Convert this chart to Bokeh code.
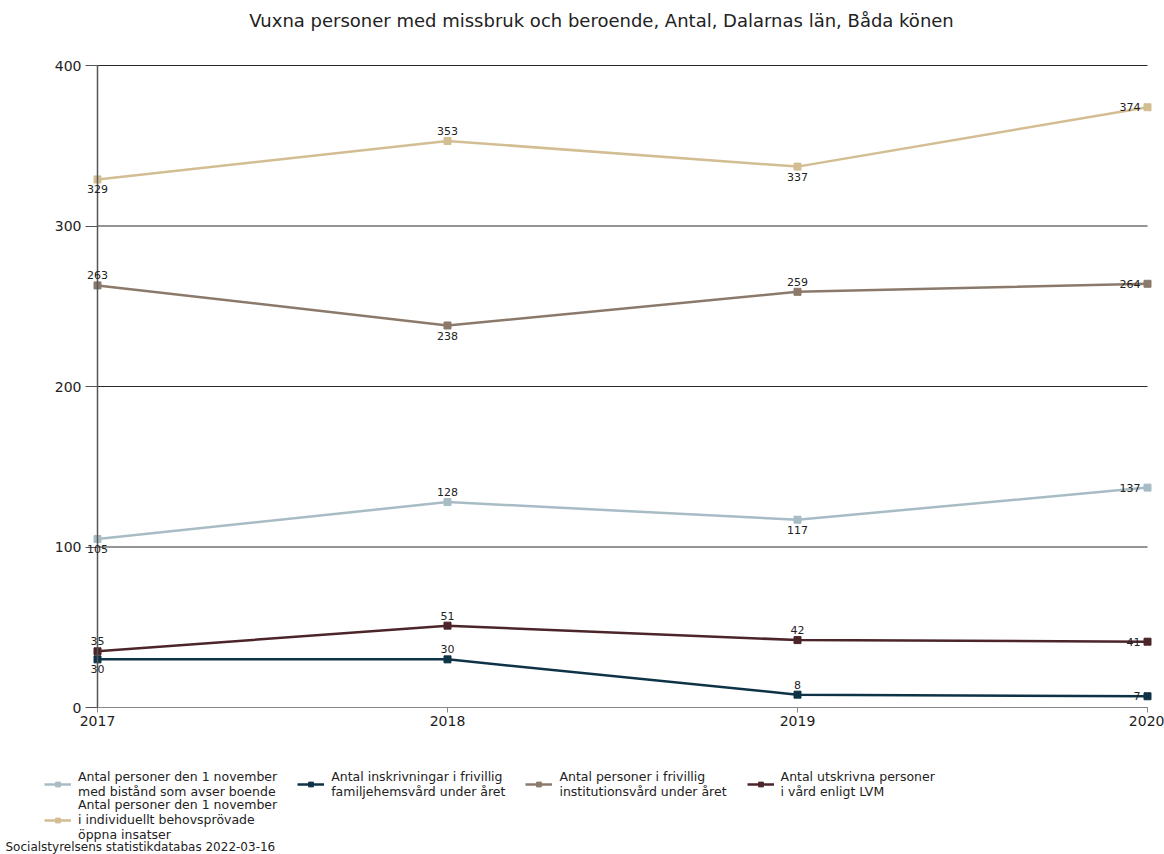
from bokeh.plotting import figure
from bokeh.models import (ColumnDataSource, LabelSet, Legend, LegendItem, FixedTicker,
                          Range1d, Label)
from bokeh.core.properties import value
from bokeh.embed import file_html
from bokeh.resources import INLINE

years = [2017, 2018, 2019, 2020]
series_names = [
    "Antal personer den 1 november\nmed bistånd som avser boende",
    "Antal inskrivningar i frivillig\nfamiljehemsvård under året",
    "Antal personer i frivillig\ninstitutionsvård under året",
    "Antal utskrivna personer\ni vård enligt LVM",
    "Antal personer den 1 november\ni individuellt behovsprövade\nöppna insatser",
]
boende = [105, 128, 117, 137]
familjehem = [30, 30, 8, 7]
institution = [263, 238, 259, 264]
lvm = [35, 51, 42, 41]
oppna = [329, 353, 337, 374]
series_values = [boende, familjehem, institution, lvm, oppna]
y_ticks = [0, 100, 200, 300, 400]
title_text = "Vuxna personer med missbruk och beroende, Antal, Dalarnas län, Båda könen"
source_text = "Socialstyrelsens statistikdatabas 2022-03-16"

colors = ["#a8bcc6", "#0e3347", "#8b7a6b", "#4b2529", "#d3bd92"]
placements = [
    ["below", "above", "below", "left"],
    ["below", "above", "above", "left"],
    ["above", "below", "above", "left"],
    ["above", "above", "above", "left"],
    ["below", "above", "below", "left"],
]

FONT = "DejaVu Sans"
W, H = 1164, 854

# The frame covers the whole canvas; the data area is placed by the ranges:
# first year at px 97, last year at px 1147, value 400 at px 65 and 0 at px 707 (from top).
PX_PER_YEAR = (1147 - 97) / (years[-1] - years[0])
x_start = years[0] - 97 / PX_PER_YEAR
x_end = years[-1] + (W - 1147) / PX_PER_YEAR
PX_PER_UNIT = (707 - 65) / (y_ticks[-1] - y_ticks[0])
y_end = y_ticks[-1] + 65 / PX_PER_UNIT
y_start = y_ticks[0] - (H - 707) / PX_PER_UNIT

p = figure(width=W, height=H, output_backend="svg", toolbar_location=None,
           x_range=Range1d(x_start, x_end), y_range=Range1d(y_start, y_end),
           min_border=0, min_border_left=0, min_border_right=0, min_border_top=0,
           min_border_bottom=0)
p.outline_line_color = None
p.background_fill_color = "white"
p.border_fill_color = "white"

# horizontal grid lines spanning only the year range
p.xgrid.visible = False
p.ygrid.visible = False
p.segment(x0=[years[0]] * len(y_ticks), x1=[years[-1]] * len(y_ticks), y0=y_ticks, y1=y_ticks,
          line_color="#2a2a2a", line_width=1)

p.yaxis.ticker = FixedTicker(ticks=y_ticks)
p.xaxis.ticker = FixedTicker(ticks=years)
p.yaxis.fixed_location = years[0]
p.xaxis.fixed_location = y_ticks[0]
p.yaxis.bounds = (y_ticks[0], y_ticks[-1])
p.xaxis.bounds = (years[0], years[-1])
p.yaxis.axis_line_color = "#555555"
p.yaxis.axis_line_width = 1.5
p.yaxis.major_tick_line_color = "#555555"
p.yaxis.major_tick_out = 12
p.yaxis.major_tick_in = 0
p.yaxis.minor_tick_line_color = None
p.yaxis.major_label_standoff = 4
p.xaxis.axis_line_color = "#888888"
p.xaxis.major_tick_line_color = "#888888"
p.xaxis.major_tick_out = 5
p.xaxis.major_tick_in = 0
p.xaxis.minor_tick_line_color = None
p.xaxis.major_label_standoff = 3
for ax in (p.xaxis, p.yaxis):
    ax.major_label_text_font = FONT
    ax.major_label_text_font_size = "14px"
    ax.major_label_text_color = "#222222"

items = []
for name, vals, col, plc in zip(series_names, series_values, colors, placements):
    xo, yo, al, bl = [], [], [], []
    for pl in plc:
        if pl == "above":
            xo.append(0); yo.append(6); al.append("center"); bl.append("bottom")
        elif pl == "below":
            xo.append(0); yo.append(-6); al.append("center"); bl.append("top")
        else:
            xo.append(-7); yo.append(0); al.append("right"); bl.append("middle")
    src = ColumnDataSource(dict(x=years, y=vals, t=[str(v) for v in vals],
                                xo=xo, yo=yo, al=al, bl=bl))
    r1 = p.line("x", "y", source=src, line_color=col, line_width=2.5)
    r2 = p.scatter("x", "y", source=src, marker="square", size=7, fill_color=col, line_color=col)
    p.add_layout(LabelSet(x="x", y="y", text="t", source=src, x_offset="xo", y_offset="yo",
                          text_align="al", text_baseline="bl", text_font=value(FONT),
                          text_font_size="11px", text_color="#222222"))
    items.append(LegendItem(label=name, renderers=[r1, r2]))

common = dict(label_text_font=FONT, label_text_font_size="12.5px", label_text_color="#222222",
              label_text_line_height=0.8, glyph_width=27, glyph_height=12, label_standoff=7,
              padding=0, margin=0, border_line_color=None, background_fill_alpha=0)
# location = bottom-left corner of each legend, from the canvas bottom-left
leg1 = Legend(items=items[:4], location=(44, H - 799), orientation="horizontal", spacing=20, **common)
leg2 = Legend(items=items[4:], location=(44, H - 842), orientation="horizontal", spacing=0, **common)
p.add_layout(leg1, "center")
p.add_layout(leg2, "center")

p.add_layout(Label(x=601, y=H - 20, x_units="screen", y_units="screen", text=title_text,
                   text_font=FONT, text_font_size="18px", text_color="#222222",
                   text_align="center", text_baseline="middle"))
p.add_layout(Label(x=5, y=H - 846, x_units="screen", y_units="screen", text=source_text,
                   text_font=FONT, text_font_size="12px", text_color="#222222",
                   text_baseline="middle"))

open("out.html", "w").write(file_html(p, INLINE))
